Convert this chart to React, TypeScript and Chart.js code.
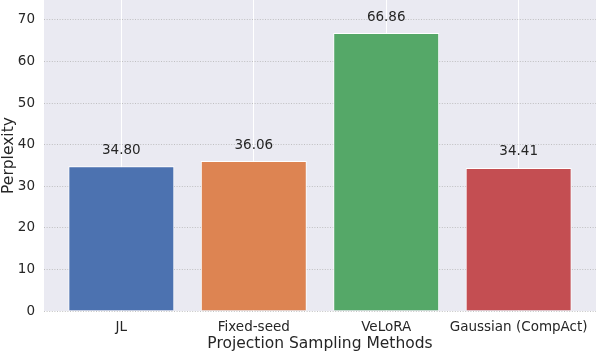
import React, { useEffect, useRef } from "react";
import { Chart, registerables } from "chart.js";

Chart.register(...registerables);

const categories = ["JL", "Fixed-seed", "VeLoRA", "Gaussian (CompAct)"];
const perplexity = [34.8, 36.06, 66.86, 34.41];
const barColors = ["#4C72B0", "#DD8452", "#55A868", "#C44E52"];
const yTicks = [0, 10, 20, 30, 40, 50, 60, 70];

const FONT = "'DejaVu Sans', sans-serif";
const TEXT = "#262626";

const bgPlugin = {
  id: "bgPlugin",
  beforeDraw(chart: any) {
    const { ctx, chartArea } = chart;
    ctx.save();
    ctx.fillStyle = "#EAEAF2";
    ctx.fillRect(chartArea.left, chartArea.top, chartArea.right - chartArea.left, chartArea.bottom - chartArea.top);
    ctx.restore();
  },
  afterDatasetsDraw(chart: any) {
    const { ctx } = chart;
    const meta = chart.getDatasetMeta(0);
    ctx.save();
    ctx.fillStyle = TEXT;
    ctx.font = `13.5px ${FONT}`;
    ctx.textAlign = "center";
    ctx.textBaseline = "middle";
    meta.data.forEach((bar: any, i: number) => {
      ctx.fillText(perplexity[i].toFixed(2), bar.x, bar.y - 16);
    });
    ctx.restore();
  },
};

export default function App() {
  const ref = useRef<HTMLCanvasElement>(null);
  useEffect(() => {
    document.body.style.margin = "0";
    const chart = new Chart(ref.current!, {
      type: "bar",
      data: {
        datasets: [
          {
            data: perplexity.map((v, i) => ({ x: i, y: v })),
            backgroundColor: barColors,
            borderColor: "#FFFFFF",
            borderWidth: 1,
            categoryPercentage: 0.8,
            barPercentage: 1,
          },
        ],
      },
      options: {
        responsive: false,
        animation: false,
        layout: { padding: { top: 0, right: 2, left: 0, bottom: 0 } },
        plugins: { legend: { display: false }, tooltip: { enabled: false } },
        scales: {
          x: {
            type: "linear",
            offset: false,
            min: -0.584,
            max: 3.584,
            afterBuildTicks: (s: any) => {
              s.ticks = categories.map((_, i) => ({ value: i }));
            },
            afterFit: (s: any) => {
              s.height = 51;
              s.paddingLeft = 0;
              s.paddingRight = 0;
            },
            ticks: {
              callback: (v: any) => categories[v as number] ?? "",
              color: TEXT,
              font: { family: FONT, size: 13.5 },
              padding: 8,
              maxRotation: 0,
              autoSkip: false,
            },
            grid: { color: "#FFFFFF", lineWidth: 1, drawTicks: false, offset: false },
            border: { display: false },
            title: {
              display: true,
              text: "Projection Sampling Methods",
              color: TEXT,
              font: { family: FONT, size: 15.5 },
              padding: { top: 0, bottom: 9 },
            },
          },
          y: {
            min: 0,
            max: 74.8,
            afterBuildTicks: (s: any) => {
              s.ticks = yTicks.map((v) => ({ value: v }));
            },
            afterFit: (s: any) => {
              s.width = 44;
              s.paddingTop = 0;
              s.paddingBottom = 0;
            },
            ticks: {
              color: TEXT,
              font: { family: FONT, size: 13.5 },
              padding: 9,
            },
            grid: { color: "#B4B4B4", lineWidth: 0.8, drawTicks: false },
            border: { display: false, dash: [1, 1.6] },
            title: {
              display: true,
              text: "Perplexity",
              color: TEXT,
              font: { family: FONT, size: 15.5 },
              padding: { top: 0, bottom: 0 },
            },
          },
        },
      } as any,
      plugins: [bgPlugin],
    });
    return () => chart.destroy();
  }, []);
  return <canvas ref={ref} width={598} height={362} style={{ display: "block" }} />;
}
